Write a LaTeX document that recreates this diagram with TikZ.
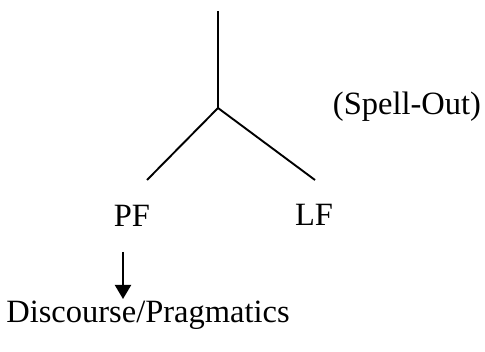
\documentclass[tikz,border=0pt]{standalone}
\usepackage{fontspec}
\setmainfont{Liberation Serif}
\usetikzlibrary{arrows.meta}
\begin{document}
\begin{tikzpicture}[x=1pt,y=-1pt,
  label/.style={inner sep=0pt, anchor=base, font=\fontsize{32.5}{38}\selectfont},
  branch/.style={line width=1.9pt},
  flow/.style={line width=2pt, -{Triangle[length=14pt,width=16pt]}}]
\useasboundingbox (0,0) rectangle (485,352);
% tree skeleton
\coordinate (top) at (218,11);
\coordinate (root) at (218,108);
\coordinate (leftend) at (147,180);
\coordinate (rightend) at (315,180);
\draw[branch] (top) -- (root);
\draw[branch] (root) -- (leftend);
\draw[branch] (root) -- (rightend);
% interface labels
\node[label] (pf) at (132,227) {PF};
\node[label] (lf) at (314,226) {LF};
\node[label] (spell) at (407,115) {(Spell-Out)};
\node[label] (disc) at (148,323) {Discourse/Pragmatics};
% PF feeds discourse
\coordinate (arrstart) at (123,252);
\coordinate (arrend) at (123,299);
\draw[flow] (arrstart) -- (arrend);
\end{tikzpicture}
\end{document}
